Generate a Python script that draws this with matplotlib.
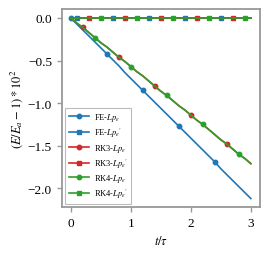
import matplotlib
matplotlib.use("Agg")
import matplotlib.pyplot as plt

plt.rcParams['font.family'] = ['Liberation Serif', 'DejaVu Serif']
plt.rcParams['mathtext.fontset'] = 'stix'

t = [0.0, 0.1, 0.2, 0.3, 0.4, 0.5, 0.6, 0.7, 0.8, 0.9, 1.0,
     1.1, 1.2, 1.3, 1.4, 1.5, 1.6, 1.7, 1.8, 1.9, 2.0,
     2.1, 2.2, 2.3, 2.4, 2.5, 2.6, 2.7, 2.8, 2.9, 3.0]

fe_lp = [0.00, -0.07, -0.14, -0.21, -0.28, -0.35, -0.42, -0.49, -0.56, -0.64, -0.71,
         -0.78, -0.85, -0.92, -0.99, -1.06, -1.13, -1.20, -1.27, -1.34, -1.41,
         -1.48, -1.55, -1.62, -1.69, -1.77, -1.84, -1.91, -1.98, -2.05, -2.12]
fe_lpp = [0.00, 0.00, 0.00, 0.00, 0.00, 0.00, 0.00, 0.00, 0.00, 0.00, 0.00,
          0.00, 0.00, 0.00, 0.00, 0.00, 0.00, 0.00, 0.00, 0.00, 0.00,
          0.00, 0.00, 0.00, 0.00, 0.00, 0.00, 0.00, 0.00, 0.00, 0.00]
rk3_lp = [0.00, -0.06, -0.11, -0.17, -0.23, -0.29, -0.34, -0.40, -0.46, -0.51, -0.57,
          -0.63, -0.68, -0.74, -0.80, -0.86, -0.91, -0.97, -1.03, -1.08, -1.14,
          -1.20, -1.25, -1.31, -1.37, -1.43, -1.48, -1.54, -1.60, -1.65, -1.71]
rk3_lpp = [0.00, 0.00, 0.00, 0.00, 0.00, 0.00, 0.00, 0.00, 0.00, 0.00, 0.00,
           0.00, 0.00, 0.00, 0.00, 0.00, 0.00, 0.00, 0.00, 0.00, 0.00,
           0.00, 0.00, 0.00, 0.00, 0.00, 0.00, 0.00, 0.00, 0.00, 0.00]
rk4_lp = [0.00, -0.06, -0.11, -0.17, -0.23, -0.29, -0.34, -0.40, -0.46, -0.51, -0.57,
          -0.63, -0.68, -0.74, -0.80, -0.86, -0.91, -0.97, -1.03, -1.08, -1.14,
          -1.20, -1.25, -1.31, -1.37, -1.43, -1.48, -1.54, -1.60, -1.65, -1.71]
rk4_lpp = [0.00, 0.00, 0.00, 0.00, 0.00, 0.00, 0.00, 0.00, 0.00, 0.00, 0.00,
           0.00, 0.00, 0.00, 0.00, 0.00, 0.00, 0.00, 0.00, 0.00, 0.00,
           0.00, 0.00, 0.00, 0.00, 0.00, 0.00, 0.00, 0.00, 0.00, 0.00]

labels = ["FE-$Lp_\\varepsilon$", "FE-$Lp_\\varepsilon{}^{\\prime}$",
          "RK3-$Lp_\\varepsilon$", "RK3-$Lp_\\varepsilon{}^{\\prime}$",
          "RK4-$Lp_\\varepsilon$", "RK4-$Lp_\\varepsilon{}^{\\prime}$"]
xticks = [0, 1, 2, 3]
yticks = [0.0, -0.5, -1.0, -1.5, -2.0]

blue, red, green = '#1f77b4', '#d62728', '#2ca02c'

fig = plt.figure(figsize=(2.7, 2.55), dpi=100)
ax = fig.add_axes([0.2285, 0.184, 0.734, 0.777])

series = [
    (fe_lp, blue, 'o', [0, 6, 12, 18, 24]),
    (fe_lpp, blue, 's', [1, 7, 13, 19, 25]),
    (rk3_lp, red, 'o', [2, 8, 14, 20, 26]),
    (rk3_lpp, red, 's', [3, 9, 15, 21, 27]),
    (rk4_lp, green, 'o', [4, 10, 16, 22, 28]),
    (rk4_lpp, green, 's', [5, 11, 17, 23, 29]),
]
for (y, c, m, me), lab in zip(series, labels):
    ax.plot(t, y, color=c, marker=m, markevery=me, markersize=3.2,
            linewidth=1.2, label=lab)

ax.set_xlim(-0.15, 3.15)
ax.set_ylim(-2.22, 0.106)
ax.set_xticks(xticks)
ax.set_yticks(yticks)
ax.set_yticklabels([f"{v:.1f}".replace('-', '\u2212') for v in yticks])
for s in ax.spines.values():
    s.set_color('#999999')
    s.set_linewidth(1.3)
ax.tick_params(colors='#999999', labelcolor='black', labelsize=9.5, length=3.5, width=1)
ax.set_xlabel('$t/\\tau$', fontsize=9, labelpad=4)
ax.set_ylabel('$(E/E_a-1)*10^2$', fontsize=9, labelpad=2)

leg = ax.legend(loc='lower left', fontsize=6, handlelength=2.4, borderpad=0.45,
                labelspacing=0.3, handletextpad=0.6, fancybox=False,
                framealpha=1.0, borderaxespad=0.4)
leg.get_frame().set_edgecolor('#bbbbbb')
leg.get_frame().set_linewidth(0.8)

fig.savefig('out.png', dpi=100)
